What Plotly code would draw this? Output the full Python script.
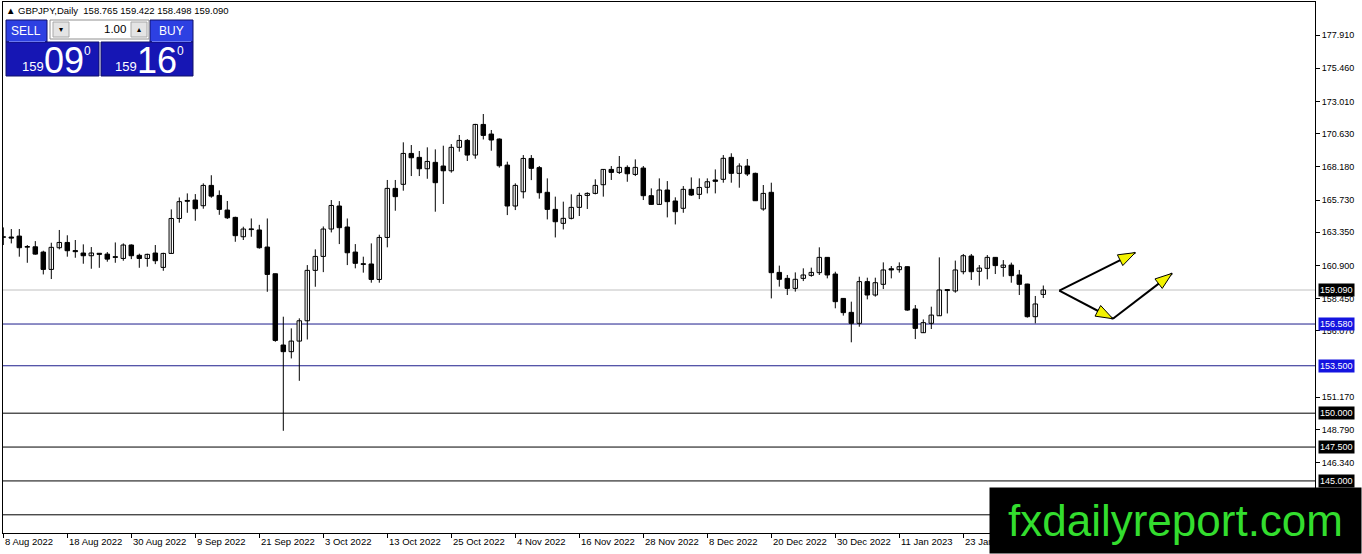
import math
import pandas as pd
import plotly.graph_objects as go

# GBPJPY daily bars, 8 Aug 2022 .. 6 Feb 2023
open_ = [163.02, 163.00, 163.07, 162.25, 162.28, 161.89, 160.61, 162.21, 162.60, 162.00,
         161.82, 161.62, 161.80, 161.74, 161.55, 161.42, 162.41, 161.65, 161.42, 161.82,
         160.76, 161.79, 164.37, 165.70, 165.73, 165.31, 166.81, 166.07, 164.99, 164.45,
         163.02, 163.60, 163.52, 162.26, 160.29, 155.03, 154.54, 155.32, 156.82, 160.54,
         161.57, 163.59, 165.29, 163.74, 161.89, 161.03, 161.01, 159.87, 162.97, 166.59,
         166.89, 169.17, 168.88, 168.04, 168.51, 168.24, 167.89, 169.62, 170.13, 169.05,
         171.31, 170.60, 170.23, 168.31, 165.29, 166.34, 168.80, 168.12, 166.30, 165.04,
         164.01, 164.38, 165.19, 166.07, 166.22, 166.86, 167.99, 167.77, 168.14, 167.62,
         168.09, 166.05, 165.41, 166.47, 165.66, 165.12, 166.52, 166.15, 166.67, 167.21,
         167.26, 168.88, 167.70, 168.24, 167.70, 165.07, 166.30, 160.39, 159.95, 159.21,
         159.95, 160.17, 160.37, 161.50, 160.27, 158.47, 157.44, 156.63, 159.71, 158.72,
         159.51, 160.66, 160.59, 160.81, 157.69, 155.94, 156.63, 157.19, 159.12, 159.02,
         160.44, 161.60, 160.47, 160.69, 161.50, 160.76, 160.93, 160.20, 159.53, 157.12,
         158.765]
high = [163.71, 163.59, 163.59, 162.41, 162.70, 161.99, 162.58, 163.52, 163.13, 162.78,
        162.46, 162.26, 161.80, 161.89, 162.60, 162.53, 162.46, 161.77, 161.77, 162.41,
        161.84, 165.04, 165.92, 166.22, 166.17, 166.96, 167.56, 166.44, 165.66, 164.50,
        163.76, 164.37, 163.90, 164.37, 160.29, 157.12, 156.26, 157.00, 160.93, 162.09,
        163.78, 165.73, 165.65, 164.37, 162.48, 161.55, 162.53, 163.17, 167.21, 167.21,
        169.99, 169.79, 169.35, 169.62, 169.47, 169.74, 169.86, 170.53, 170.23, 171.35,
        172.08, 170.90, 170.28, 168.56, 166.96, 169.05, 169.05, 168.24, 167.33, 165.98,
        165.61, 166.15, 166.27, 166.30, 167.26, 168.02, 168.24, 168.98, 168.29, 168.73,
        168.24, 166.59, 167.33, 167.13, 165.93, 166.76, 167.40, 167.33, 167.33, 167.99,
        169.05, 169.18, 168.44, 168.76, 167.75, 166.84, 167.01, 160.89, 160.20, 160.39,
        160.69, 160.74, 162.24, 161.52, 160.44, 158.50, 158.23, 160.07, 160.00, 160.00,
        161.13, 160.86, 161.13, 160.83, 157.98, 156.92, 157.86, 161.50, 159.15, 161.26,
        161.75, 161.75, 160.93, 161.67, 161.52, 161.30, 161.11, 160.57, 159.55, 158.65,
        159.422]
low = [162.41, 162.53, 161.55, 161.10, 161.70, 160.24, 159.90, 162.09, 161.55, 161.47,
       161.03, 160.66, 160.73, 161.18, 161.10, 161.25, 161.37, 160.73, 160.81, 161.00,
       160.51, 161.79, 164.06, 164.79, 164.20, 165.09, 165.90, 164.64, 164.33, 162.65,
       162.78, 163.02, 162.14, 158.96, 155.27, 148.70, 154.04, 152.39, 155.44, 159.33,
       160.41, 163.34, 162.48, 160.93, 160.69, 160.37, 159.63, 159.63, 162.24, 164.94,
       166.42, 167.50, 167.50, 167.30, 164.87, 165.44, 167.75, 169.30, 168.61, 168.78,
       170.20, 169.37, 168.12, 164.62, 164.99, 165.85, 167.20, 165.83, 164.30, 162.97,
       163.56, 164.30, 164.55, 165.07, 166.15, 165.98, 167.21, 167.65, 167.08, 167.50,
       165.73, 165.38, 165.38, 164.45, 163.93, 164.79, 166.03, 165.80, 166.22, 166.22,
       167.01, 167.01, 166.64, 167.50, 165.66, 164.94, 158.47, 159.34, 158.72, 158.97,
       159.75, 160.07, 160.20, 159.95, 157.74, 157.20, 155.23, 156.38, 158.40, 158.60,
       159.16, 159.95, 160.37, 157.56, 155.47, 155.92, 156.21, 157.17, 157.36, 158.89,
       160.25, 159.83, 159.41, 159.88, 160.27, 160.07, 159.63, 158.72, 157.05, 156.63,
       158.498]
close = [162.98, 162.92, 162.21, 162.30, 161.74, 160.61, 162.24, 162.60, 161.99, 161.92,
         161.62, 161.82, 161.72, 161.37, 161.50, 162.41, 161.62, 161.42, 161.72, 161.25,
         161.79, 164.37, 165.61, 165.64, 165.09, 166.81, 166.02, 165.04, 164.42, 163.10,
         163.59, 163.55, 162.21, 160.24, 155.37, 154.54, 155.32, 156.82, 160.54, 161.57,
         163.59, 165.33, 163.69, 161.84, 161.06, 160.98, 159.87, 162.97, 166.59, 165.98,
         169.17, 168.85, 168.04, 168.58, 167.01, 167.89, 169.62, 170.13, 169.05, 171.31,
         170.50, 170.16, 168.26, 165.29, 166.81, 168.80, 168.07, 166.27, 165.04, 164.13,
         164.38, 165.19, 166.07, 166.22, 166.81, 167.99, 167.77, 168.14, 167.67, 168.14,
         166.05, 165.41, 166.47, 165.61, 164.87, 166.52, 166.10, 166.66, 167.08, 167.11,
         168.81, 167.70, 168.24, 167.65, 165.68, 166.22, 160.37, 159.88, 159.21, 159.88,
         160.20, 160.39, 161.50, 160.20, 158.23, 157.42, 156.63, 159.71, 158.72, 159.63,
         160.57, 160.57, 160.81, 157.61, 156.26, 156.68, 157.24, 159.09, 159.05, 160.57,
         161.62, 160.44, 160.71, 161.50, 160.89, 160.93, 160.15, 159.51, 157.12, 158.06,
         159.090]

dates = pd.bdate_range("2022-08-08", periods=len(close))
label_every = 8

price_ticks = [177.91, 175.46, 173.01, 170.63, 168.18, 165.73, 163.35, 160.90,
               158.45, 156.07, 151.17, 148.79, 146.34]

bid = 159.09
blue_levels = [156.58, 153.50]
black_levels = [150.00, 147.50, 145.00, 142.50]

# hand-drawn arrows (bar index, price)
arrow_from = [(132.0, 159.05), (132.0, 159.05), (138.7, 156.97)]
arrow_to = [(141.5, 161.85), (138.7, 156.97), (146.1, 160.32)]

# page geometry (plot area in px)
W, H = 1362, 554
L, R, T, B = 3, 1315, 2, 533
KX = 8.0      # px per bar
KY = 13.55    # px per price unit
x_lo = -0.0375
x_hi = x_lo + (R - L) / KX
y_hi = 177.91 + (35 - T) / KY
y_lo = y_hi - (B - T) / KY


def px(x):
    return (x - L) / (R - L)


def py(y):
    return (B - y) / (B - T)


idx = list(range(len(close)))

wx, wy = [], []
for i in idx:
    wx += [i, i, None]
    wy += [low[i], high[i], None]

bottoms = [min(o, c) for o, c in zip(open_, close)]
heights = [max(abs(c - o), 0.03) for o, c in zip(open_, close)]
fills = ["white" if c >= o else "black" for o, c in zip(open_, close)]

fig = go.Figure()
fig.add_trace(go.Scatter(x=wx, y=wy, mode="lines", line=dict(color="black", width=1),
                         hoverinfo="skip", showlegend=False))
fig.add_trace(go.Bar(x=idx, y=heights, base=bottoms, width=0.56,
                     marker=dict(color=fills, line=dict(color="black", width=1)),
                     hoverinfo="skip", showlegend=False))

shapes = []
ann = []

# horizontal levels
shapes.append(dict(type="line", xref="paper", x0=0, x1=1, yref="y", y0=bid, y1=bid,
                   line=dict(color="#c0c0c0", width=1), layer="below"))
for lv in blue_levels:
    shapes.append(dict(type="line", xref="paper", x0=0, x1=1, yref="y", y0=lv, y1=lv,
                       line=dict(color="#1c1c8c", width=1), layer="below"))
for lv in black_levels:
    shapes.append(dict(type="line", xref="paper", x0=0, x1=1, yref="y", y0=lv, y1=lv,
                       line=dict(color="black", width=1), layer="below"))


def level_label(v, bg):
    ann.append(dict(xref="paper", x=px(1318), xanchor="left", yref="y", y=v, yanchor="middle",
                    text="%.3f" % v, showarrow=False, bgcolor=bg, borderpad=1,
                    font=dict(family="Liberation Sans", size=9, color="white")))


level_label(bid, "black")
for lv in blue_levels:
    level_label(lv, "#1414e0")
for lv in black_levels[:3]:
    level_label(lv, "black")

# arrows
for (x0, y0), (x1, y1) in zip(arrow_from, arrow_to):
    shapes.append(dict(type="line", xref="x", yref="y", x0=x0, y0=y0, x1=x1, y1=y1,
                       line=dict(color="black", width=2), layer="above"))
    dx, dy = (x1 - x0) * KX, (y1 - y0) * KY
    n = math.hypot(dx, dy)
    ux, uy = dx / n, dy / n
    tx, ty = x1 * KX, y1 * KY
    bx, by = tx - ux * 17, ty - uy * 17
    pts = [(tx, ty), (bx - uy * 6, by + ux * 6), (bx + uy * 6, by - ux * 6)]
    path = "M " + " L ".join("%.4f,%.4f" % (a / KX, b / KY) for a, b in pts) + " Z"
    shapes.append(dict(type="path", xref="x", yref="y", path=path, fillcolor="#f2f200",
                       line=dict(color="black", width=1), layer="above"))

# date labels (left-aligned at the tick like MT4)
for i in range(0, len(dates), label_every):
    d = dates[i]
    ann.append(dict(xref="x", x=i, xanchor="left", yref="paper", y=0, yanchor="top",
                    yshift=-1, text="%d %s" % (d.day, d.strftime("%b %Y")), showarrow=False,
                    font=dict(family="Liberation Sans", size=9.5, color="black")))

# header line
ann.append(dict(xref="paper", x=px(4), xanchor="left", yref="paper", y=py(11), yanchor="middle",
                text="▲ GBPJPY,Daily\u00a0 158.765 159.422 158.498 159.090", showarrow=False,
                font=dict(family="Liberation Sans", size=9.5, color="black")))

# one-click trading panel
def rect(x0, y0, x1, y1, fill, line="rgba(0,0,0,0)", lw=0):
    shapes.append(dict(type="rect", xref="paper", yref="paper", x0=px(x0), x1=px(x1),
                       y0=py(y1), y1=py(y0), fillcolor=fill, line=dict(color=line, width=lw),
                       layer="above"))


def text(x, y, s, size, xanchor="left", color="white"):
    ann.append(dict(xref="paper", x=px(x), xanchor=xanchor, yref="paper", y=py(y),
                    yanchor="middle", text=s, showarrow=False, borderpad=0,
                    font=dict(family="Liberation Sans", size=size, color=color)))


rect(6, 20, 47, 42, "#2d40e2", "#10106a", 1)
rect(150, 20, 193, 42, "#2d40e2", "#10106a", 1)
rect(6, 42, 99, 76, "#1616b4", "#10106a", 1)
rect(101, 42, 193, 76, "#1616b4", "#10106a", 1)
rect(9, 41, 45, 42, "#6a78f0")
rect(152, 41, 191, 42, "#6a78f0")
rect(50, 20, 149, 39, "white", "#909090", 1)
rect(53, 22, 69, 37, "#e4e4e4", "#a8a8a8", 1)
rect(131, 22, 147, 37, "#e4e4e4", "#a8a8a8", 1)
text(26.5, 30.5, "SELL", 12, "center")
text(171.5, 30.5, "BUY", 12, "center")
text(61, 29.5, "▾", 8, "center", "black")
text(139, 29.5, "▴", 8, "center", "black")
text(127, 29.5, "1.00", 11.5, "right", "black")
text(21, 66, "159", 13)
text(43, 60, "09", 36)
text(83, 51, "0", 12)
text(114, 66, "159", 13)
text(136, 60, "16", 36)
text(176, 51, "0", 12)

# watermark
ann.append(dict(xref="paper", x=px(W), xanchor="right", yref="paper", y=py(H), yanchor="bottom",
                text="fxdailyreport.com", showarrow=False, bgcolor="black", borderpad=0,
                width=371, height=65, align="center", valign="middle",
                font=dict(family="Liberation Sans", size=44, color="#33dd2e")))

fig.update_layout(
    width=W, height=H,
    margin=dict(l=L, r=W - R, t=T, b=H - B),
    paper_bgcolor="white", plot_bgcolor="white",
    shapes=shapes, annotations=ann,
    showlegend=False,
    xaxis=dict(range=[x_lo, x_hi], showgrid=False, zeroline=False, showline=True, mirror=True,
               linecolor="black", linewidth=1, ticks="outside", ticklen=4, tickcolor="black",
               tickvals=list(range(0, len(dates), label_every)), showticklabels=False,
               fixedrange=True),
    yaxis=dict(range=[y_lo, y_hi], side="right", showgrid=False, zeroline=False, showline=True,
               mirror=True, linecolor="black", linewidth=1, ticks="outside", ticklen=4,
               tickcolor="black", tickvals=price_ticks, ticktext=["%.3f" % v for v in price_ticks],
               tickfont=dict(family="Liberation Sans", size=9, color="black"), fixedrange=True),
)

# drop the browser's default body margin so the figure sits at the page corner
fig.write_html("out.html", config={"displayModeBar": False},
               post_script="document.body.style.margin='0';"
                           "document.body.style.overflow='hidden';")
